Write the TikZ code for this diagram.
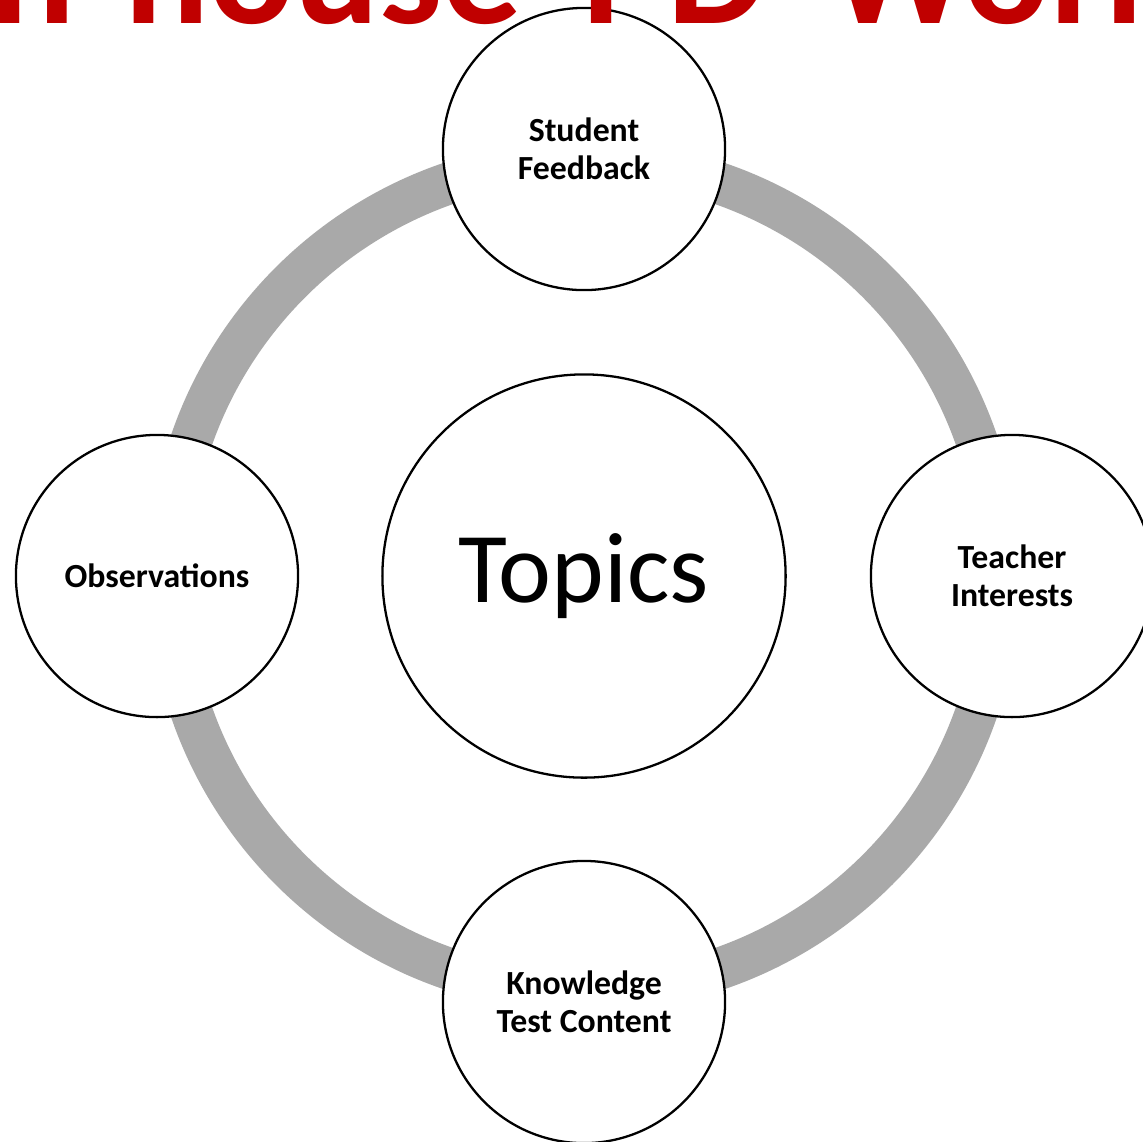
\documentclass[tikz,border=0pt]{standalone}
\usepackage{fontspec}
\setmainfont{Carlito}
\newfontfamily\headfont[WordSpace=1.7]{Carlito}
\definecolor{ringgray}{HTML}{A9A9A9}
\definecolor{titlered}{HTML}{C00000}
\begin{document}
\begin{tikzpicture}[x=0.01cm, y=-0.01cm,
  outer/.style={circle, draw=black, line width=0.65pt, fill=white,
    minimum size=2.82cm, inner sep=0pt, align=center,
    font=\fontsize{9.6pt}{10.8pt}\selectfont\bfseries},
  hub/.style={circle, draw=black, line width=0.65pt, fill=white,
    minimum size=4.03cm, inner sep=0pt, font=\fontsize{28.5pt}{34pt}\selectfont}]
  \clip (0,0) rectangle (1143,1141);
  \fill[white] (0,0) rectangle (1143,1141);
  % ring that links the four outer circles
  \coordinate (mid) at (584,576);
  \draw[ringgray, line width=0.42cm] (mid) circle[radius=4.15cm];
  % central topic and the four sources around it
  \node[hub] (topics) at (mid) {Topics};
  \node[outer] (fb)  at (584,149)  {Student\\Feedback};
  \node[outer] (ti)  at (1012,576) {Teacher\\Interests};
  \node[outer] (obs) at (157,576)  {Observations};
  \node[outer] (ktc) at (584,1002) {Knowledge\\Test Content};
  % slide title, running off the top edge
  \node[anchor=base west, inner sep=0pt, text=titlered,
    font=\headfont\fontsize{45pt}{54pt}\selectfont\bfseries] (title) at (-52,23)
    {In-house PD Workshop};
\end{tikzpicture}
\end{document}
